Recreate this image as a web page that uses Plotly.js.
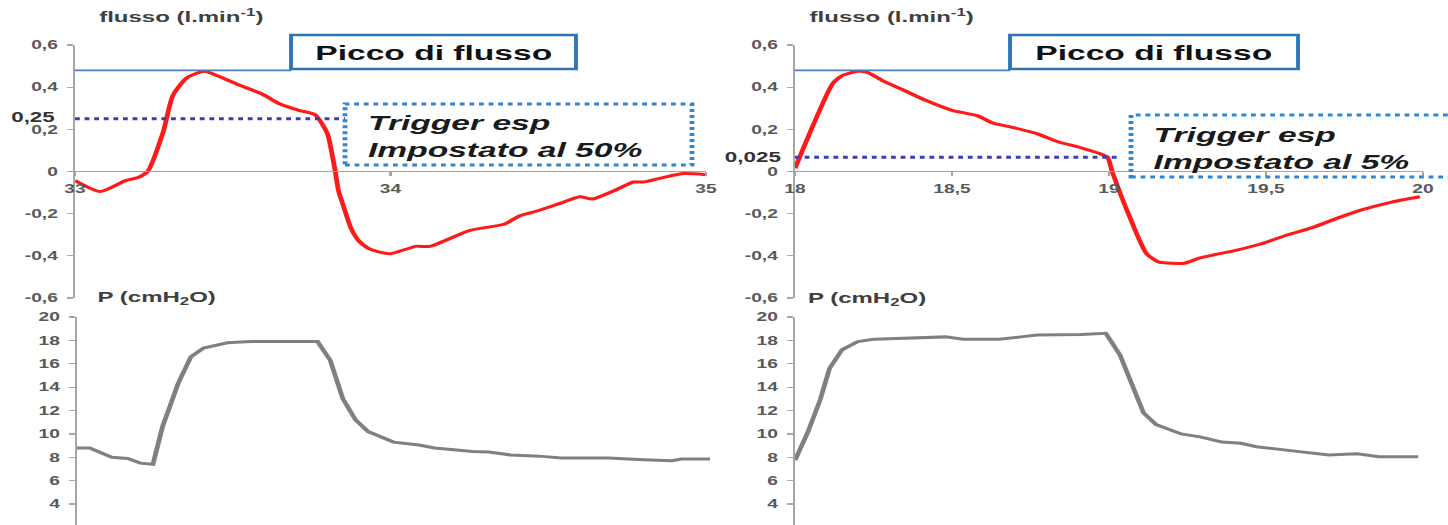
<!DOCTYPE html>
<html>
<head>
<meta charset="utf-8">
<script src="https://cdn.plot.ly/plotly-3.0.1.min.js"></script>
<style>
html,body{margin:0;padding:0;background:#fff;overflow:hidden;}
#wrap{width:1448px;height:525px;overflow:hidden;}
#plot{width:905px;height:525px;transform:scaleX(1.6);transform-origin:0 0;}
</style>
</head>
<body>
<div id="wrap"><div id="plot"></div></div>
<script>
// ---------- DATA ----------
// Left panel (trigger 50%)
const timeFlowL = [33.0, 33.08, 33.16, 33.2, 33.23, 33.28, 33.31, 33.355, 33.41, 33.45, 33.52, 33.59, 33.65, 33.71, 33.76, 33.80, 33.815, 33.825, 33.835, 33.85, 33.875, 33.9, 33.93, 33.96, 34.0, 34.08, 34.125, 34.25, 34.36, 34.41, 34.47, 34.54, 34.60, 34.64, 34.71, 34.77, 34.8, 34.86, 34.93, 35.0];
const flowL     = [-0.043, -0.095, -0.043, -0.028, 0.0, 0.19, 0.36, 0.445, 0.475, 0.455, 0.41, 0.37, 0.32, 0.29, 0.27, 0.18, 0.08, 0.0, -0.09, -0.16, -0.27, -0.33, -0.365, -0.38, -0.39, -0.355, -0.355, -0.28, -0.25, -0.21, -0.185, -0.15, -0.12, -0.13, -0.09, -0.05, -0.05, -0.03, -0.01, -0.015];
const timePresL = [33.0, 33.04, 33.11, 33.16, 33.2, 33.24, 33.27, 33.32, 33.36, 33.4, 33.475, 33.55, 33.76, 33.8, 33.84, 33.88, 33.92, 34.0, 34.08, 34.13, 34.25, 34.3, 34.37, 34.46, 34.53, 34.68, 34.79, 34.88, 34.91, 35.0];
const presL     = [8.8, 8.8, 8.0, 7.9, 7.5, 7.4, 10.6, 14.35, 16.6, 17.35, 17.8, 17.9, 17.9, 16.3, 13.0, 11.2, 10.2, 9.3, 9.05, 8.8, 8.5, 8.45, 8.2, 8.1, 7.95, 7.95, 7.8, 7.7, 7.85, 7.85];

// Right panel (trigger 5%)
const timeFlowR = [18.0, 18.055, 18.12, 18.15, 18.2, 18.23, 18.28, 18.34, 18.42, 18.5, 18.58, 18.63, 18.69, 18.77, 18.84, 18.905, 18.97, 18.995, 19.01, 19.07, 19.12, 19.16, 19.24, 19.29, 19.4, 19.48, 19.57, 19.65, 19.73, 19.81, 19.9, 19.99];
const flowR     = [0.015, 0.21, 0.417, 0.455, 0.475, 0.47, 0.43, 0.39, 0.335, 0.29, 0.265, 0.23, 0.21, 0.18, 0.14, 0.115, 0.085, 0.068, 0.0, -0.23, -0.39, -0.43, -0.435, -0.41, -0.375, -0.345, -0.30, -0.265, -0.22, -0.18, -0.145, -0.12];
const timePresR = [18.0, 18.04, 18.08, 18.11, 18.15, 18.2, 18.25, 18.4, 18.48, 18.535, 18.65, 18.72, 18.77, 18.91, 18.99, 19.035, 19.11, 19.15, 19.23, 19.29, 19.36, 19.42, 19.47, 19.585, 19.7, 19.79, 19.86, 19.985];
const presR     = [7.75, 10.1, 12.9, 15.6, 17.2, 17.9, 18.1, 18.2, 18.3, 18.1, 18.1, 18.3, 18.45, 18.5, 18.6, 16.75, 11.8, 10.8, 10.0, 9.75, 9.3, 9.2, 8.9, 8.55, 8.2, 8.3, 8.05, 8.05];

// Reference levels
const peakFlow    = [0.48, 0.48];
const triggerFlow = [0.25, 0.068];
const triggerLabels = ["0,25", "0,025"];
const triggerTexts  = ["Trigger esp<br>Impostato al 50%", "Trigger esp<br>Impostato al 5%"];

// Tick labels
const flowTickVals = [-0.6, -0.4, -0.2, 0, 0.2, 0.4, 0.6];
const flowTickText = ["-0,6", "-0,4", "-0,2", "0", "0,2", "0,4", "0,6"];
const presTickVals = [2, 4, 6, 8, 10, 12, 14, 16, 18, 20];
const presTickText = ["2", "4", "6", "8", "10", "12", "14", "16", "18", "20"];
const xTickValsL = [33, 34, 35];
const xTickTextL = ["33", "34", "35"];
const xTickValsR = [18, 18.5, 19, 19.5, 20];
const xTickTextR = ["18", "18,5", "19", "19,5", "20"];

// ---------- LAYOUT HELPERS ----------
const W = 1448, H = 525;
const px = v => v / W;
const py = v => 1 - v / H;

const tickFont = {family: "Liberation Sans, Arial, sans-serif", size: 12, color: "#595959", weight: "bold"};
const axisColor = "#a6a6a6";

function yAx(domain, range, vals, text, anchor) {
  return {domain, range, anchor, tickvals: vals, ticktext: text, showline: true, linecolor: axisColor, linewidth: 1.3,
    ticks: "outside", ticklen: 4, tickwidth: 1.3, tickcolor: axisColor, tickfont: tickFont, showgrid: false,
    zeroline: false, fixedrange: true, ticklabelstandoff: 3};
}
function xAxTop(domain, range, vals, text) {
  return {domain, range, anchor: "free", position: py(171), tickvals: vals, ticktext: text, showline: true,
    linecolor: axisColor, linewidth: 1.3, ticks: "outside", ticklen: 4, tickwidth: 1.3, tickcolor: axisColor,
    tickfont: tickFont, showgrid: false, zeroline: false, fixedrange: true, ticklabelstandoff: 2};
}
function xAxHidden(domain, range, anchor) {
  return {domain, range, anchor, visible: false, fixedrange: true};
}

const flowLine = {color: "#ff1a1a", width: 3, shape: "spline", smoothing: 0.6};
const presLine = {color: "#808080", width: 3};

const traces = [
  {x: timeFlowL, y: flowL, xaxis: "x", yaxis: "y", mode: "lines", line: flowLine, hoverinfo: "skip"},
  {x: timePresL, y: presL, xaxis: "x2", yaxis: "y2", mode: "lines", line: presLine, hoverinfo: "skip"},
  {x: timeFlowR, y: flowR, xaxis: "x3", yaxis: "y3", mode: "lines", line: flowLine, hoverinfo: "skip"},
  {x: timePresR, y: presR, xaxis: "x4", yaxis: "y4", mode: "lines", line: presLine, hoverinfo: "skip"}
];

const peakColor = "#4a7ebb", boxColor = "#2e75b6", dotColor = "#3c3cb4", tBoxColor = "#2e86d6";

const shapes = [
  // left panel
  {type: "line", xref: "paper", yref: "y", x0: px(75), x1: px(291), y0: peakFlow[0], y1: peakFlow[0], line: {color: peakColor, width: 1.8}},
  {type: "rect", xref: "paper", yref: "paper", x0: px(291), x1: px(576), y0: py(69), y1: py(35), line: {color: boxColor, width: 2.4}},
  {type: "line", xref: "paper", yref: "y", x0: px(75), x1: px(345), y0: triggerFlow[0], y1: triggerFlow[0], line: {color: dotColor, width: 3, dash: "dot"}},
  {type: "rect", xref: "paper", yref: "paper", x0: px(345), x1: px(692), y0: py(165), y1: py(104), line: {color: tBoxColor, width: 3, dash: "dot"}},
  // right panel
  {type: "line", xref: "paper", yref: "y3", x0: px(795), x1: px(1010), y0: peakFlow[1], y1: peakFlow[1], line: {color: peakColor, width: 1.8}},
  {type: "rect", xref: "paper", yref: "paper", x0: px(1010), x1: px(1298), y0: py(69), y1: py(35), line: {color: boxColor, width: 2.4}},
  {type: "line", xref: "paper", yref: "y3", x0: px(795), x1: px(1120), y0: triggerFlow[1], y1: triggerFlow[1], line: {color: dotColor, width: 3, dash: "dot"}},
  {type: "rect", xref: "paper", yref: "paper", x0: px(1131), x1: px(1475), y0: py(177), y1: py(115), line: {color: tBoxColor, width: 3, dash: "dot"}}
];

const titleFont = {family: "Liberation Sans, Arial, sans-serif", size: 15, color: "#404040", weight: "bold"};
const boxFont = {family: "Liberation Sans, Arial, sans-serif", size: 21, color: "#111111", weight: "bold"};
const trigFont = {family: "Liberation Sans, Arial, sans-serif", size: 21, color: "#1a1a1a", style: "italic", weight: "bold"};
const levelFont = {family: "Liberation Sans, Arial, sans-serif", size: 14, color: "#333333", weight: "bold"};

function ann(text, x, y, font, xanchor, align) {
  return {text, x, y, xref: "paper", yref: "paper", xanchor: xanchor || "left", yanchor: "middle",
    showarrow: false, font, align: align || "left"};
}

const annotations = [
  ann("flusso (l.min<sup>-1</sup>)", px(96), py(15), titleFont),
  ann("P (cmH<sub>2</sub>O)", px(94), py(297), titleFont),
  ann("flusso (l.min<sup>-1</sup>)", px(806), py(15), titleFont),
  ann("P (cmH<sub>2</sub>O)", px(804), py(298), titleFont),
  ann("Picco di flusso", px(433), py(52), boxFont, "center", "center"),
  ann("Picco di flusso", px(1154), py(52), boxFont, "center", "center"),
  ann(triggerTexts[0], px(364), py(136), trigFont),
  ann(triggerTexts[1], px(1151), py(148), trigFont),
  {text: triggerLabels[0], x: px(56), xref: "paper", y: triggerFlow[0], yref: "y", xanchor: "right", yanchor: "middle", yshift: 2, borderpad: 0, showarrow: false, font: levelFont},
  {text: triggerLabels[1], x: px(783), xref: "paper", y: triggerFlow[1], yref: "y3", xanchor: "right", yanchor: "middle", borderpad: 0, showarrow: false, font: levelFont}
];

const layout = {
  width: 905, height: 525, autosize: false,
  margin: {l: 0, r: 0, t: 0, b: 0, pad: 0},
  paper_bgcolor: "#ffffff", plot_bgcolor: "rgba(0,0,0,0)",
  showlegend: false,
  xaxis:  xAxTop([px(75), px(706)], [33, 35], xTickValsL, xTickTextL),
  yaxis:  yAx([py(298), py(45)], [-0.6, 0.6], flowTickVals, flowTickText, "x"),
  xaxis2: xAxHidden([px(77), px(710)], [33, 35], "y2"),
  yaxis2: yAx([0, py(317)], [2.21, 20], presTickVals, presTickText, "x2"),
  xaxis3: xAxTop([px(795), px(1423)], [18, 20], xTickValsR, xTickTextR),
  yaxis3: yAx([py(298), py(45)], [-0.6, 0.6], flowTickVals, flowTickText, "x3"),
  xaxis4: xAxHidden([px(795), px(1423)], [18, 20], "y4"),
  yaxis4: yAx([0, py(317)], [2.21, 20], presTickVals, presTickText, "x4"),
  shapes, annotations
};

Plotly.newPlot("plot", traces, layout, {displayModeBar: false, staticPlot: true});
</script>
</body>
</html>
